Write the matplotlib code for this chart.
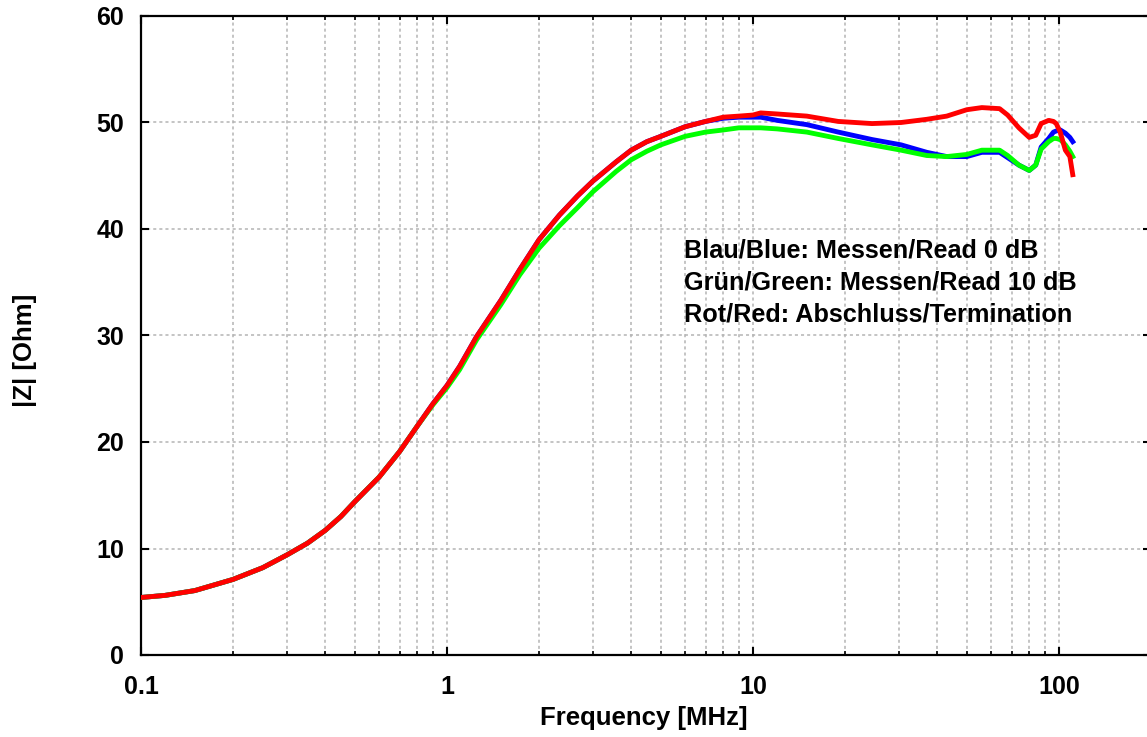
import matplotlib
matplotlib.use("Agg")
import matplotlib.pyplot as plt
from matplotlib.ticker import LogLocator, FixedLocator, NullFormatter

plt.rcParams['font.family'] = ['Liberation Sans', 'DejaVu Sans']
plt.rcParams['font.weight'] = 'bold'

freq = [0.1, 0.12, 0.15, 0.2, 0.25, 0.3, 0.35, 0.4, 0.45, 0.5, 0.6, 0.7, 0.8, 0.9, 1.0, 1.1,
        1.25, 1.5, 1.73, 2.0, 2.33, 2.67, 3.0, 3.57, 4, 4.5, 5, 6, 7, 8, 9,
        10, 10.6, 12, 15, 19, 24.5, 30.5, 37, 43, 50, 56, 64, 68, 74, 80, 84,
        87.5, 92.6, 96, 98, 101, 105, 108.6, 111]

z_red = [5.4, 5.6, 6.05, 7.1, 8.2, 9.4, 10.5, 11.7, 13.0, 14.4, 16.7, 19.1, 21.5, 23.6, 25.3, 27.1,
         29.9, 33.3, 36.2, 39.0, 41.3, 43.1, 44.5, 46.3, 47.4, 48.2, 48.7, 49.6, 50.1, 50.5, 50.6,
         50.7, 50.9, 50.8, 50.6, 50.1, 49.9, 50.0, 50.3, 50.6, 51.2, 51.4, 51.3, 50.7, 49.5, 48.6, 48.8,
         49.9, 50.2, 50.1, 49.9, 49.1, 47.4, 46.8, 45.1]

z_blue = [5.4, 5.6, 6.05, 7.1, 8.2, 9.4, 10.5, 11.7, 13.0, 14.4, 16.7, 19.1, 21.5, 23.6, 25.3, 27.1,
          29.9, 33.3, 36.2, 39.0, 41.3, 43.1, 44.5, 46.3, 47.4, 48.2, 48.7, 49.6, 50.1, 50.4, 50.5,
          50.5, 50.5, 50.2, 49.8, 49.1, 48.4, 47.9, 47.2, 46.8, 46.8, 47.2, 47.2, 46.7, 46.0, 45.5, 46.0,
          47.7, 48.5, 49.1, 49.2, 49.3, 49.0, 48.6, 48.2]

z_green = [5.4, 5.6, 6.05, 7.1, 8.2, 9.4, 10.5, 11.7, 13.0, 14.4, 16.7, 19.1, 21.5, 23.5, 25.1, 26.8,
           29.6, 32.9, 35.7, 38.2, 40.3, 42.0, 43.5, 45.4, 46.5, 47.3, 47.9, 48.7, 49.1, 49.3, 49.5,
           49.5, 49.5, 49.4, 49.1, 48.5, 47.9, 47.4, 46.9, 46.8, 47.0, 47.4, 47.4, 46.9, 46.0, 45.5, 46.0,
           47.5, 48.2, 48.5, 48.5, 48.4, 47.9, 47.3, 46.8]

x_ticks = [0.1, 1, 10, 100]
x_tick_labels = ['0.1', '1', '10', '100']
y_ticks = [0, 10, 20, 30, 40, 50, 60]

legend_lines = ['Blau/Blue: Messen/Read 0 dB',
                'Grün/Green: Messen/Read 10 dB',
                'Rot/Red: Abschluss/Termination']

W, H = 1147, 737
fig = plt.figure(figsize=(W / 100, H / 100), dpi=100)
ax = fig.add_axes([141 / W, 1 - 655 / H, 1010 / W, 639 / H])

lw = 3.5
ax.plot(freq, z_blue, color='#0000ff', lw=lw, zorder=3)
ax.plot(freq, z_green, color='#00ff00', lw=lw, zorder=4)
ax.plot(freq, z_red, color='#ff0000', lw=lw, zorder=5)

ax.set_xscale('log')
ax.set_xlim(0.1, 200)
ax.set_ylim(0, 60)
ax.xaxis.set_major_locator(FixedLocator(x_ticks))
ax.set_xticklabels(x_tick_labels)
ax.xaxis.set_minor_locator(LogLocator(base=10, subs=range(2, 10), numticks=20))
ax.xaxis.set_minor_formatter(NullFormatter())
ax.set_yticks(y_ticks)

ax.grid(True, which='major', axis='both', color='#b4b4b4', linestyle=(0, (2, 2)), lw=1.1)
ax.grid(True, which='minor', axis='x', color='#b4b4b4', linestyle=(0, (2, 2)), lw=1.1)

for s in ax.spines.values():
    s.set_linewidth(1.6)

ax.tick_params(which='major', direction='in', length=6, width=1.5, top=True, right=True,
               labelsize=18)
ax.tick_params(axis='x', which='major', pad=14.5)
ax.tick_params(axis='y', which='major', pad=12)
ax.tick_params(which='minor', direction='in', length=3, width=1.2, top=True, right=True)

fig.text(644 / W, 1 - 718 / H, 'Frequency [MHz]', fontsize=18.5, fontweight='bold',
         ha='center', va='center')
fig.text(25 / W, 1 - 350 / H, '|Z| [Ohm]', fontsize=18.5, fontweight='bold',
         ha='center', va='center', rotation=90)

baselines = [258, 290, 322]
for t, b in zip(legend_lines, baselines):
    fig.text(684 / W, 1 - b / H, t, fontsize=18.2, fontweight='bold',
             ha='left', va='baseline')

fig.savefig('out.png', dpi=100)
